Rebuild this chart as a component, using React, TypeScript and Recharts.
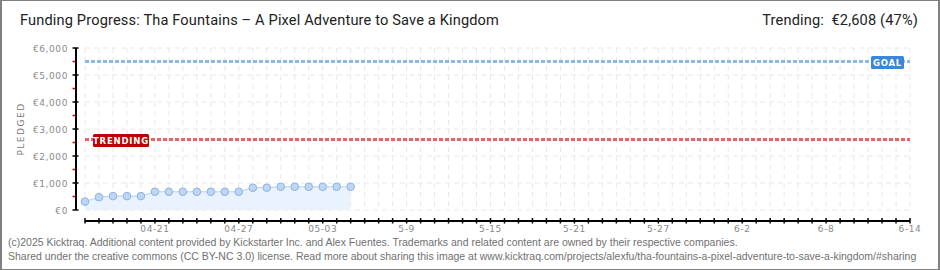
import { ComposedChart, Area, XAxis, YAxis, CartesianGrid, ReferenceLine } from 'recharts';

// one category per day of the campaign window
const DATES = [
  '04-16', '04-17', '04-18', '04-19', '04-20', '04-21', '04-22', '04-23', '04-24', '04-25',
  '04-26', '04-27', '04-28', '04-29', '04-30', '05-01', '05-02', '05-03', '05-04', '05-05',
  '05-06', '05-07', '05-08', '05-09', '05-10', '05-11', '05-12', '05-13', '05-14', '05-15',
  '05-16', '05-17', '05-18', '05-19', '05-20', '05-21', '05-22', '05-23', '05-24', '05-25',
  '05-26', '05-27', '05-28', '05-29', '05-30', '05-31', '06-01', '06-02', '06-03', '06-04',
  '06-05', '06-06', '06-07', '06-08', '06-09', '06-10', '06-11', '06-12', '06-13', '06-14',
];

// pledged totals so far (EUR), one per day from 04-16
const PLEDGED = [310, 475, 515, 515, 515, 675, 675, 675, 675, 675, 675, 675, 825, 825, 860, 860, 860, 860, 860, 860];

const X_LABELS: Record<string, string> = {
  '04-21': '04-21',
  '04-27': '04-27',
  '05-03': '05-03',
  '05-09': '5-9',
  '05-15': '5-15',
  '05-21': '5-21',
  '05-27': '5-27',
  '06-02': '6-2',
  '06-08': '6-8',
  '06-14': '6-14',
};

const Y_MAJOR = [0, 1000, 2000, 3000, 4000, 5000, 6000];
const Y_MINOR = [500, 1500, 2500, 3500, 4500, 5500];

const GOAL = 5500;
const TRENDING = 2608;

const data = DATES.map((date, i) => ({ date, pledged: PLEDGED[i] }));
const yTicks = [...Y_MAJOR, ...Y_MINOR].sort((a, b) => a - b);

const tickFont = '"DejaVu Sans", sans-serif';

function YTick({ x, y, payload }: any) {
  const v = payload.value as number;
  if (v % 1000 !== 0) {
    return <line x1={x - 3.5} x2={x - 1} y1={y} y2={y} stroke="#e00000" strokeWidth={1.5} />;
  }
  return (
    <g>
      <line x1={x - 3.5} x2={x + 2.5} y1={y} y2={y} stroke="#000" strokeWidth={1.5} />
      <text x={x - 8} y={y} dy={3.5} textAnchor="end" fontSize={9} fill="#8a8a8a" fontFamily={tickFont} letterSpacing={0.6}>
        {'€' + v.toLocaleString('en-US')}
      </text>
    </g>
  );
}

function XTick({ x, y, payload }: any) {
  const label = X_LABELS[payload.value];
  return (
    <g>
      <line x1={x} x2={x} y1={y - 3} y2={y + 2.5} stroke="#000" strokeWidth={1.5} />
      {label && (
        <text x={x} y={y + 11} textAnchor="middle" fontSize={9} fill="#8a8a8a" fontFamily={tickFont} letterSpacing={0.6}>
          {label}
        </text>
      )}
    </g>
  );
}

function GoalTag({ viewBox }: any) {
  const right = viewBox.x + viewBox.width;
  const cy = viewBox.y;
  return (
    <g>
      <rect x={right - 39} y={cy - 5.5} width={33} height={13} rx={1.5} fill="#3a87d8" />
      <text x={right - 22.5} y={cy + 4.5} textAnchor="middle" fontSize={8.5} fontWeight="bold" fill="#fff" fontFamily={tickFont} letterSpacing={0.8}>
        GOAL
      </text>
    </g>
  );
}

function TrendingTag({ viewBox }: any) {
  const left = viewBox.x;
  const cy = viewBox.y;
  return (
    <g>
      <rect x={left + 8} y={cy - 5.5} width={56} height={13} rx={1.5} fill="#c00000" />
      <text x={left + 36} y={cy + 4.5} textAnchor="middle" fontSize={8.5} fontWeight="bold" fill="#fff" fontFamily={tickFont} letterSpacing={0.8}>
        TRENDING
      </text>
    </g>
  );
}

export default function App() {
  return (
    <div style={{ position: 'absolute', left: 0, top: 0, width: 940, height: 270, background: '#fff', fontFamily: 'Roboto, sans-serif' }}>
      <div style={{ position: 'absolute', left: 20, top: 11, fontSize: 14.6, letterSpacing: 0.15, color: '#222', whiteSpace: 'nowrap' }}>
        Funding Progress: Tha Fountains – A Pixel Adventure to Save a Kingdom
      </div>
      <div style={{ position: 'absolute', right: 22, top: 11, fontSize: 14.6, letterSpacing: 0.15, color: '#222', whiteSpace: 'nowrap' }}>
        Trending:&nbsp; €2,608 (47%)
      </div>

      <div style={{ position: 'absolute', left: 0, top: 0 }}>
        <ComposedChart width={940} height={270} data={data} margin={{ top: 48, right: 30, left: 16, bottom: 29 }}>
          <CartesianGrid
            xAxisId="main"
            yAxisId="main"
            stroke="#e8e8e8"
            strokeDasharray="5 4"
            horizontalValues={Y_MAJOR}
          />
          {/* spacer axes keep the drawn axes a few px away from the plot */}
          <XAxis xAxisId="gap" dataKey="date" height={11} tick={false} axisLine={false} tickLine={false} />
          <XAxis
            xAxisId="main"
            dataKey="date"
            height={20}
            interval={0}
            tickSize={0}
            tickMargin={0}
            tickLine={false}
            axisLine={{ stroke: '#000', strokeWidth: 2 }}
            tick={<XTick />}
          />
          <YAxis yAxisId="gap" width={9} tick={false} axisLine={false} tickLine={false} />
          <YAxis
            yAxisId="main"
            type="number"
            domain={[0, 6000]}
            ticks={yTicks}
            interval={0}
            width={60}
            tickSize={0}
            tickMargin={0}
            tickLine={false}
            axisLine={{ stroke: '#000', strokeWidth: 2 }}
            tick={<YTick />}
            label={{
              value: 'PLEDGED',
              angle: -90,
              position: 'insideLeft',
              offset: 5,
              style: { fontSize: 9, fill: '#7a7a7a', fontFamily: tickFont, letterSpacing: 1.5, textAnchor: 'middle' },
            }}
          />
          <ReferenceLine xAxisId="main" yAxisId="main" y={GOAL} stroke="#8cb8ea" strokeWidth={3} strokeDasharray="4 2" label={<GoalTag />} />
          <ReferenceLine xAxisId="main" yAxisId="main" y={TRENDING} stroke="#d86a6a" strokeWidth={3} strokeDasharray="4 2" label={<TrendingTag />} />
          <Area
            xAxisId="main"
            yAxisId="main"
            type="linear"
            dataKey="pledged"
            stroke="#b3cff0"
            strokeWidth={1}
            fill="#eaf3fd"
            fillOpacity={1}
            dot={{ r: 3.8, fill: '#bcd6f4', stroke: '#8fb2de', strokeWidth: 1 }}
            activeDot={false}
            isAnimationActive={false}
          />
        </ComposedChart>
      </div>

      <div style={{ position: 'absolute', left: 8, top: 235, fontSize: 10.5, color: '#707070', fontFamily: '"Liberation Sans", sans-serif', lineHeight: '14px', whiteSpace: 'nowrap' }}>
        <div>(c)2025 Kicktraq. Additional content provided by Kickstarter Inc. and Alex Fuentes. Trademarks and related content are owned by their respective companies.</div>
        <div>Shared under the creative commons (CC BY-NC 3.0) license. Read more about sharing this image at www.kicktraq.com/projects/alexfu/tha-fountains-a-pixel-adventure-to-save-a-kingdom/#sharing</div>
      </div>

      <div style={{ position: 'absolute', left: 0, top: 0, width: 940, height: 270, boxSizing: 'border-box', border: '1px solid #808080', borderLeftWidth: 2, borderRightWidth: 2, pointerEvents: 'none' }} />
    </div>
  );
}
